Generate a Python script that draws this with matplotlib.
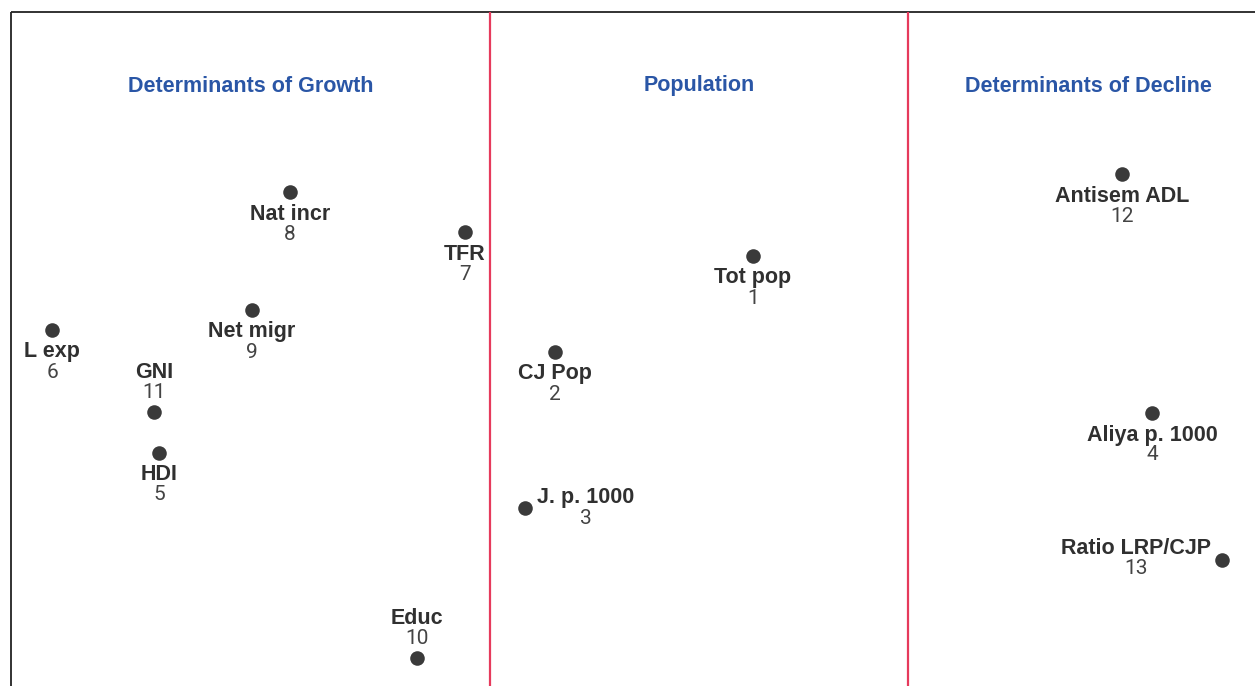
import matplotlib.pyplot as plt

# Node positions on the layout (pixel-like units of the original map)
names = ['Tot pop', 'CJ Pop', 'J. p. 1000', 'Aliya p. 1000', 'HDI', 'L exp', 'TFR',
         'Nat incr', 'Net migr', 'Educ', 'GNI', 'Antisem ADL', 'Ratio LRP/CJP']
numbers = ['1', '2', '3', '4', '5', '6', '7', '8', '9', '10', '11', '12', '13']
x_vals = [753, 555, 525, 1152, 159, 52, 465, 290, 252, 417, 154, 1122, 1222]
y_vals = [256, 352, 508, 413, 453, 330, 232, 192, 310, 658, 412, 174, 560]
label_side = ['below', 'below', 'right', 'below', 'below', 'below', 'below',
              'below', 'below', 'above', 'above', 'below', 'left']

sections = ['Determinants of Growth', 'Population', 'Determinants of Decline']
section_centers = [251, 699, 1088]
dividers = [490, 908]

plt.rcParams['font.family'] = ['Liberation Sans', 'DejaVu Sans']

fig = plt.figure(figsize=(12.55, 6.86), dpi=100)
ax = fig.add_axes([0, 0, 1, 1])
ax.set_xlim(0, 1255)
ax.set_ylim(686, 0)
ax.axis('off')

# frame: left and top border only
ax.plot([11, 11], [12, 686], color='#222222', lw=1.3, solid_capstyle='butt')
ax.plot([11, 1255], [12, 12], color='#222222', lw=1.3, solid_capstyle='butt')

for xd in dividers:
    ax.plot([xd, xd], [12, 686], color='#e63a5c', lw=1.6, solid_capstyle='butt')

for title, xc in zip(sections, section_centers):
    ax.text(xc, 86, title, ha='center', va='center', fontsize=15.5,
            fontweight='bold', color='#2a56a6')

ax.scatter(x_vals, y_vals, s=110, color='#3a3a3a', zorder=3, linewidths=0)

offsets = {
    'below': ((0, -22), 'center'),
    'above': ((0, 39), 'center'),
    'right': ((12, 10), 'left'),
    'left': ((-11, 11), 'right'),
}

for name, num, xv, yv, side in zip(names, numbers, x_vals, y_vals, label_side):
    off, ha = offsets[side]
    t = ax.annotate(name, xy=(xv, yv), xytext=off, textcoords='offset pixels',
                    ha=ha, va='center', fontsize=15.5, fontweight='bold',
                    color='#303030')
    # number centred under its label
    ax.annotate(num, xy=(0.5, 0.5), xycoords=t, xytext=(0, -20),
                textcoords='offset pixels', ha='center', va='center',
                fontsize=15, family=['Roboto', 'DejaVu Sans'], color='#444444')

plt.savefig('out.png', dpi=100)
